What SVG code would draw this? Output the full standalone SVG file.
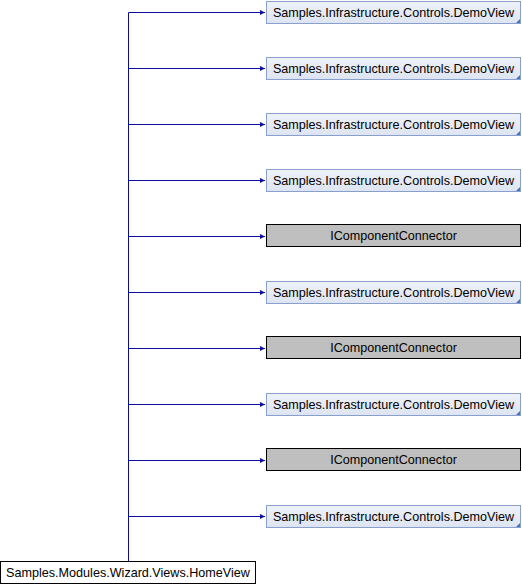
<svg xmlns="http://www.w3.org/2000/svg" width="522" height="584" viewBox="0 0 522 584">
  <style>
    .edge { stroke: #0d0d99; stroke-width: 1; fill: none; }
    .ext rect { fill: url(#extFill); stroke: #8aa0cc; stroke-width: 1; }
    .ext path { fill: #5470b0; }
    .iface rect { fill: #bfbfbf; stroke: #000000; stroke-width: 1; }
    .cls rect { fill: #ffffff; stroke: #000000; stroke-width: 1; }
    text { font-family: "Liberation Sans", Arial, sans-serif; font-size: 12.6px; fill: #000000; text-anchor: middle; }
  </style>
  <defs>
    <linearGradient id="extFill" x1="0" y1="0" x2="0" y2="1">
      <stop offset="0" stop-color="#eef1f8"/>
      <stop offset="1" stop-color="#dde4f1"/>
    </linearGradient>
    <marker id="arrow" markerWidth="6" markerHeight="6" refX="5" refY="3" orient="auto" markerUnits="userSpaceOnUse">
      <path d="M0,0.5 L5,3 L0,5.5 Z" fill="#0d0d99"/>
    </marker>
  </defs>

  <!-- inheritance connectors -->
  <g id="edges">
    <path class="edge" d="M128.5,561 V12.5"/>
    <path class="edge" d="M128.5,12.5 H265" marker-end="url(#arrow)"/>
    <path class="edge" d="M128.5,68.5 H265" marker-end="url(#arrow)"/>
    <path class="edge" d="M128.5,124.5 H265" marker-end="url(#arrow)"/>
    <path class="edge" d="M128.5,180.5 H265" marker-end="url(#arrow)"/>
    <path class="edge" d="M128.5,236.5 H265" marker-end="url(#arrow)"/>
    <path class="edge" d="M128.5,292.5 H265" marker-end="url(#arrow)"/>
    <path class="edge" d="M128.5,348.5 H265" marker-end="url(#arrow)"/>
    <path class="edge" d="M128.5,404.5 H265" marker-end="url(#arrow)"/>
    <path class="edge" d="M128.5,460.5 H265" marker-end="url(#arrow)"/>
    <path class="edge" d="M128.5,516.5 H265" marker-end="url(#arrow)"/>
  </g>

  <g id="demoview1" class="ext">
    <rect x="266.5" y="1.5" width="254" height="22"/>
    <path d="M520,19 V23 H516 Z"/>
    <text x="393.5" y="16.5">Samples.Infrastructure.Controls.DemoView</text>
  </g>
  <g id="demoview2" class="ext">
    <rect x="266.5" y="57.5" width="254" height="22"/>
    <path d="M520,75 V79 H516 Z"/>
    <text x="393.5" y="72.5">Samples.Infrastructure.Controls.DemoView</text>
  </g>
  <g id="demoview3" class="ext">
    <rect x="266.5" y="113.5" width="254" height="22"/>
    <path d="M520,131 V135 H516 Z"/>
    <text x="393.5" y="128.5">Samples.Infrastructure.Controls.DemoView</text>
  </g>
  <g id="demoview4" class="ext">
    <rect x="266.5" y="169.5" width="254" height="22"/>
    <path d="M520,187 V191 H516 Z"/>
    <text x="393.5" y="184.5">Samples.Infrastructure.Controls.DemoView</text>
  </g>
  <g id="iface1" class="iface">
    <rect x="266.5" y="224.5" width="254" height="22"/>
    <text x="393.5" y="240">IComponentConnector</text>
  </g>
  <g id="demoview5" class="ext">
    <rect x="266.5" y="281.5" width="254" height="22"/>
    <path d="M520,299 V303 H516 Z"/>
    <text x="393.5" y="296.5">Samples.Infrastructure.Controls.DemoView</text>
  </g>
  <g id="iface2" class="iface">
    <rect x="266.5" y="336.5" width="254" height="22"/>
    <text x="393.5" y="352">IComponentConnector</text>
  </g>
  <g id="demoview6" class="ext">
    <rect x="266.5" y="393.5" width="254" height="22"/>
    <path d="M520,411 V415 H516 Z"/>
    <text x="393.5" y="408.5">Samples.Infrastructure.Controls.DemoView</text>
  </g>
  <g id="iface3" class="iface">
    <rect x="266.5" y="448.5" width="254" height="22"/>
    <text x="393.5" y="464">IComponentConnector</text>
  </g>
  <g id="demoview7" class="ext">
    <rect x="266.5" y="505.5" width="254" height="22"/>
    <path d="M520,523 V527 H516 Z"/>
    <text x="393.5" y="520.5">Samples.Infrastructure.Controls.DemoView</text>
  </g>

  <g id="homeview" class="cls">
    <rect x="0.5" y="561.5" width="255" height="22"/>
    <text x="128" y="577">Samples.Modules.Wizard.Views.HomeView</text>
  </g>
</svg>
